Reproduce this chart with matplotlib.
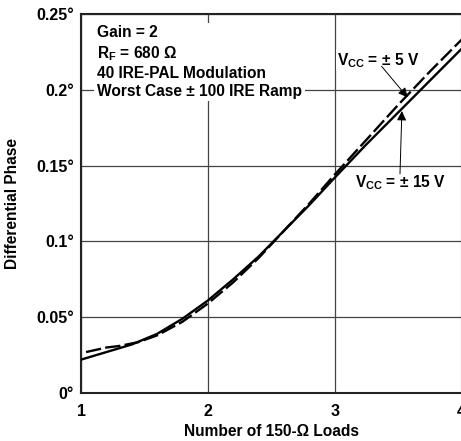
import matplotlib
matplotlib.use("Agg")
import matplotlib.pyplot as plt

plt.rcParams["font.family"] = ["Liberation Sans", "DejaVu Sans"]
plt.rcParams["font.weight"] = "bold"
plt.rcParams["mathtext.fontset"] = "custom"
plt.rcParams["mathtext.rm"] = "Liberation Sans:bold"
plt.rcParams["mathtext.bf"] = "Liberation Sans:bold"
plt.rcParams["mathtext.default"] = "bf"

# 數據
loads_15v = [1.0, 1.2, 1.4, 1.6, 1.8, 2.0, 2.2, 2.4, 2.6, 2.8, 3.0, 3.25, 3.5, 3.75, 4.0]
phase_15v = [0.022, 0.027, 0.032, 0.039, 0.049, 0.061, 0.075, 0.090, 0.107, 0.124,
             0.142, 0.164, 0.185, 0.206, 0.227]

loads_5v = [1.04, 1.2, 1.3, 1.45, 1.6, 1.8, 2.0, 2.2, 2.4, 2.6, 2.8, 3.0, 3.25, 3.5, 3.75, 4.0]
phase_5v = [0.027, 0.030, 0.031, 0.0335, 0.038, 0.047, 0.059, 0.073, 0.089, 0.107, 0.125,
            0.144, 0.167, 0.190, 0.212, 0.233]

x_ticks = [1, 2, 3, 4]
y_ticks = [0, 0.05, 0.1, 0.15, 0.2, 0.25]
y_labels = ["0°", "0.05°", "0.1°", "0.15°", "0.2°", "0.25°"]

FS = 11.2

fig = plt.figure(figsize=(4.61, 4.41), dpi=100)
ax = fig.add_axes([81 / 461, 1 - 393 / 441, 380.5 / 461, 379 / 441])

ax.plot(loads_15v, phase_15v, color="black", lw=1.7, solid_capstyle="butt", zorder=3)
ax.plot(loads_5v, phase_5v, color="black", lw=1.7, dashes=(6.5, 1.8), zorder=3)

ax.set_xlim(1, 4)
ax.set_ylim(0, 0.25)
ax.set_xticks(x_ticks)
ax.set_xticklabels([str(t) for t in x_ticks], fontsize=11.5, fontweight="bold")
ax.set_yticks(y_ticks)
ax.set_yticklabels(y_labels, fontsize=11.5, fontweight="bold")
ax.tick_params(length=0, pad=5)
ax.tick_params(axis="x", pad=8)
ax.grid(True, color="#444444", lw=0.9)
for s in ax.spines.values():
    s.set_linewidth(1.5)
    s.set_color("#222222")

ax.set_xlabel("Number of 150-Ω Loads", fontsize=FS, fontweight="bold")
ax.set_ylabel("Differential Phase", fontsize=FS, fontweight="bold")
ax.xaxis.set_label_coords(0.5, -0.082)
ax.yaxis.set_label_coords(-0.160, 0.5)

ax.text(1.125, 0.2425,
        "Gain = 2\nR$_F$ = 680 Ω\n40 IRE-PAL Modulation\nWorst Case ± 100 IRE Ramp",
        fontsize=FS, fontweight="bold", va="top", ha="left", linespacing=1.25,
        bbox=dict(facecolor="white", edgecolor="none", pad=2), zorder=4)

arrow = dict(arrowstyle="-|>", color="black", lw=0.7, mutation_scale=14,
             shrinkA=0, shrinkB=0)
ax.text(3.02, 0.2195, "V$_{CC}$ = ± 5 V", fontsize=FS, fontweight="bold",
        va="center", ha="left", zorder=4,
        bbox=dict(facecolor="white", edgecolor="none", pad=1))
ax.annotate("", xy=(3.575, 0.195), xytext=(3.37, 0.2155), arrowprops=arrow, zorder=5)

ax.text(3.16, 0.1385, "V$_{CC}$ = ± 15 V", fontsize=FS, fontweight="bold",
        va="center", ha="left", zorder=4,
        bbox=dict(facecolor="white", edgecolor="none", pad=1))
ax.annotate("", xy=(3.53, 0.186), xytext=(3.515, 0.1445), arrowprops=arrow, zorder=5)

fig.savefig("out.png", dpi=100)
